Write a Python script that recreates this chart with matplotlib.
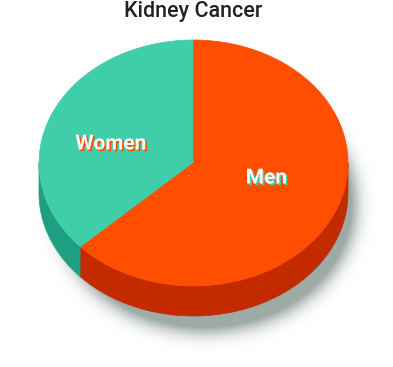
import numpy as np
import matplotlib
matplotlib.use("Agg")
import matplotlib.pyplot as plt
from matplotlib.patches import Wedge, Polygon
from matplotlib.transforms import Affine2D
import matplotlib.patheffects as pe

title = "Kidney Cancer"
categories = ["Women", "Men"]
values = [37, 63]
top_colors = ["#40cda9", "#ff4e00"]
side_colors = ["#1f9e82", "#c42a00"]
label_shadow = ["#ff4e00", "#40cda9"]

W, H = 393, 367
fig = plt.figure(figsize=(W / 100, H / 100), dpi=100)
ax = fig.add_axes([0, 0, 1, 1])
ax.set_xlim(0, W)
ax.set_ylim(H, 0)
ax.axis("off")

cx, cy, rx, ry, depth = 193.5, 163.0, 154.5, 123.0, 30.0
start = 90.0

# soft blurred drop shadow
yy, xx = np.mgrid[0:H, 0:W] + 0.5
scx, scy, srx, sry = cx + 12, cy + depth + 11, 149.0, 126.0
mask = (((xx - scx) / srx) ** 2 + ((yy - scy) / sry) ** 2 <= 1).astype(float)
sig = 9.0
k = np.arange(-30, 31)
g = np.exp(-k ** 2 / (2 * sig ** 2))
g /= g.sum()
mask = np.apply_along_axis(lambda r: np.convolve(r, g, mode="same"), 1, mask)
mask = np.apply_along_axis(lambda c: np.convolve(c, g, mode="same"), 0, mask)
img = np.zeros((H, W, 4))
img[..., 0], img[..., 1], img[..., 2] = 0.47, 0.54, 0.52
img[..., 3] = np.clip(mask * 1.6, 0, 1) * 0.72
ax.imshow(img, extent=(0, W, H, 0), zorder=1, interpolation="bilinear")
ax.set_xlim(0, W)
ax.set_ylim(H, 0)

tr = Affine2D().scale(rx, -ry).translate(cx, cy) + ax.transData
fracs = np.array(values, dtype=float) / sum(values)
angles = start + 360 * np.concatenate([[0], np.cumsum(fracs)])

# sides
for i in range(len(values)):
    a0, a1 = angles[i], angles[i + 1]
    for off in (0, 360):
        lo, hi = max(a0, 180 + off), min(a1, 360 + off)
        if hi > lo:
            t = np.radians(np.linspace(lo, hi, 200))
            xs = cx + rx * np.cos(t)
            ys = cy - ry * np.sin(t)
            pts = np.concatenate([np.column_stack([xs, ys]),
                                  np.column_stack([xs[::-1], ys[::-1] + depth])])
            ax.add_patch(Polygon(pts, closed=True, facecolor=side_colors[i],
                                 edgecolor=side_colors[i], lw=0.5, zorder=2))

# tops
for i in range(len(values)):
    w = Wedge((0, 0), 1, angles[i], angles[i + 1], facecolor=top_colors[i],
              edgecolor=top_colors[i], lw=0.5, transform=tr, zorder=3)
    ax.add_patch(w)

# labels
label_pos = {"Women": (111, 144), "Men": (266.5, 178)}
for i, c in enumerate(categories):
    x, y = label_pos[c]
    ax.text(x, y, c, ha="center", va="center", fontsize=15, fontweight="bold",
            family="Roboto", color="white", zorder=5,
            path_effects=[pe.withSimplePatchShadow(offset=(1.2, -1.2),
                                                   shadow_rgbFace=label_shadow[i], alpha=1.0)])

ax.text(cx, 12, title, ha="center", va="center", fontsize=15.5, fontweight="medium",
        family="Roboto", color="#222222", zorder=5)

fig.savefig("out.png", dpi=100)
